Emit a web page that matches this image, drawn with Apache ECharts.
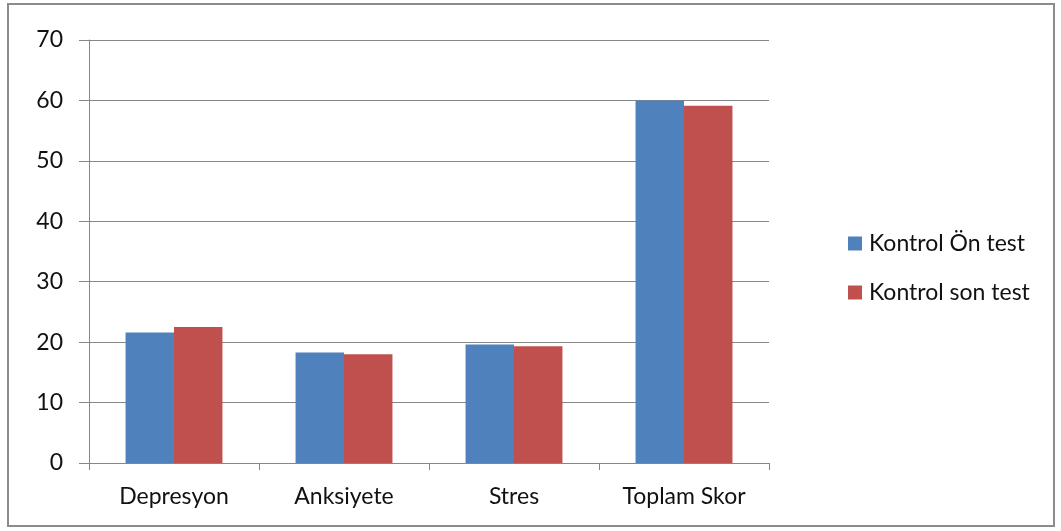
<!DOCTYPE html>
<html>
<head>
<meta charset="utf-8">
<script src="https://cdn.jsdelivr.net/npm/echarts@6/dist/echarts.min.js"></script>
<style>
  html, body { margin: 0; padding: 0; background: #fff; }
  #frame { position: absolute; left: 7px; top: 3px; width: 1048px; height: 524px; border: 2px solid #8c8c8c; box-sizing: border-box; }
  #chart { position: absolute; left: 0; top: 0; width: 1061px; height: 531px; }
</style>
</head>
<body>
<div id="frame"></div>
<div id="chart"></div>
<script>
const categories = ['Depresyon', 'Anksiyete', 'Stres', 'Toplam Skor'];
const seriesNames = ['Kontrol Ön test', 'Kontrol son test'];
const onTest = [21.6, 18.3, 19.6, 60.0];
const sonTest = [22.5, 18.0, 19.3, 59.1];
const colors = ['#4f81bd', '#c0504d'];

const font = 'Lato, "Open Sans", sans-serif';
const fs = 23;
const chart = echarts.init(document.getElementById('chart'), null, { renderer: 'canvas' });
chart.setOption({
  animation: false,
  color: colors,
  textStyle: { fontFamily: font },
  grid: { left: 89, top: 40, width: 680, height: 423, containLabel: false },
  legend: {
    orient: 'vertical',
    left: 843,
    top: 227,
    itemWidth: 14,
    itemHeight: 14,
    itemGap: 26,
    icon: 'rect',
    textStyle: { fontSize: fs, color: '#111', fontFamily: font, padding: [0, 0, 0, 2] },
    data: seriesNames
  },
  xAxis: {
    type: 'category',
    data: categories,
    axisLine: { lineStyle: { color: '#868686', width: 1 } },
    axisTick: { show: true, length: 7, lineStyle: { color: '#868686' } },
    axisLabel: { fontSize: fs, color: '#111', margin: 22, fontFamily: font }
  },
  yAxis: {
    type: 'value',
    min: 0,
    max: 70,
    interval: 10,
    axisLine: { show: true, lineStyle: { color: '#868686', width: 1 } },
    axisTick: { show: true, inside: false, length: 10, lineStyle: { color: '#868686' } },
    splitLine: { lineStyle: { color: '#868686', width: 1 } },
    axisLabel: { fontSize: fs, color: '#111', margin: 26, fontFamily: font }
  },
  series: [
    { name: seriesNames[0], type: 'bar', data: onTest, barGap: '0%', barCategoryGap: '43%', itemStyle: { color: colors[0] } },
    { name: seriesNames[1], type: 'bar', data: sonTest, barGap: '0%', barCategoryGap: '43%', itemStyle: { color: colors[1] } }
  ]
});
</script>
</body>
</html>
